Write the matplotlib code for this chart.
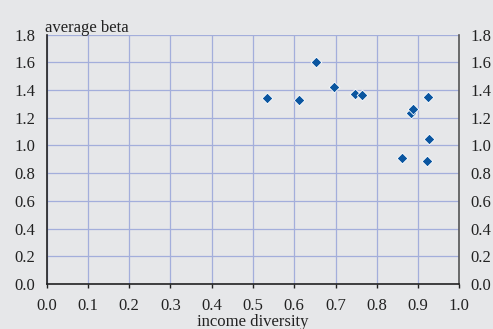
import matplotlib
matplotlib.use("Agg")
import matplotlib.pyplot as plt
from matplotlib.ticker import FormatStrFormatter

income_diversity = [0.533, 0.611, 0.652, 0.697, 0.748, 0.763, 0.884, 0.888, 0.925, 0.926, 0.860, 0.922]
average_beta = [1.345, 1.328, 1.604, 1.422, 1.369, 1.362, 1.236, 1.260, 1.347, 1.045, 0.912, 0.890]

x_ticks = [0.0, 0.1, 0.2, 0.3, 0.4, 0.5, 0.6, 0.7, 0.8, 0.9, 1.0]
y_ticks = [0.0, 0.2, 0.4, 0.6, 0.8, 1.0, 1.2, 1.4, 1.6, 1.8]

bg = "#e6e7e9"
grid_c = "#a3aedb"
mark_c = "#0b56a0"

plt.rcParams['font.family'] = ['Liberation Serif', 'DejaVu Serif']

fig = plt.figure(figsize=(4.93, 3.29), dpi=100, facecolor=bg)
ax = fig.add_axes([0.0947, 0.1368, 0.837, 0.7583])
ax.set_facecolor(bg)

ax.set_xlim(0, 1.0)
ax.set_ylim(0, 1.8)
ax.set_xticks(x_ticks)
ax.set_yticks(y_ticks)
ax.xaxis.set_major_formatter(FormatStrFormatter('%.1f'))
ax.yaxis.set_major_formatter(FormatStrFormatter('%.1f'))
ax.grid(True, color=grid_c, linewidth=0.9)
ax.set_axisbelow(True)

ax.scatter(income_diversity, average_beta, marker='D', s=30, color=mark_c,
           edgecolor='white', linewidth=0.6, zorder=3)

ax.spines['top'].set_visible(False)
ax.spines['left'].set_color('#222222')
ax.spines['bottom'].set_color('#222222')
ax.spines['right'].set_color('#555555')
for s in ['left', 'bottom', 'right']:
    ax.spines[s].set_linewidth(1.2)

ax.tick_params(axis='x', direction='out', length=3, width=1, color='#222222',
               labelsize=12, pad=7, labelcolor='#222222')
ax.tick_params(axis='y', length=0, labelsize=12, pad=8, labelcolor='#222222',
               left=True, right=True, labelleft=True, labelright=True)

ax.set_xlabel('income diversity', fontsize=12, color='#222222', labelpad=0)
fig.text(0.0913, 0.915, 'average beta', fontsize=12, color='#222222',
         ha='left', va='center')

fig.savefig('out.png', dpi=100, facecolor=bg)
